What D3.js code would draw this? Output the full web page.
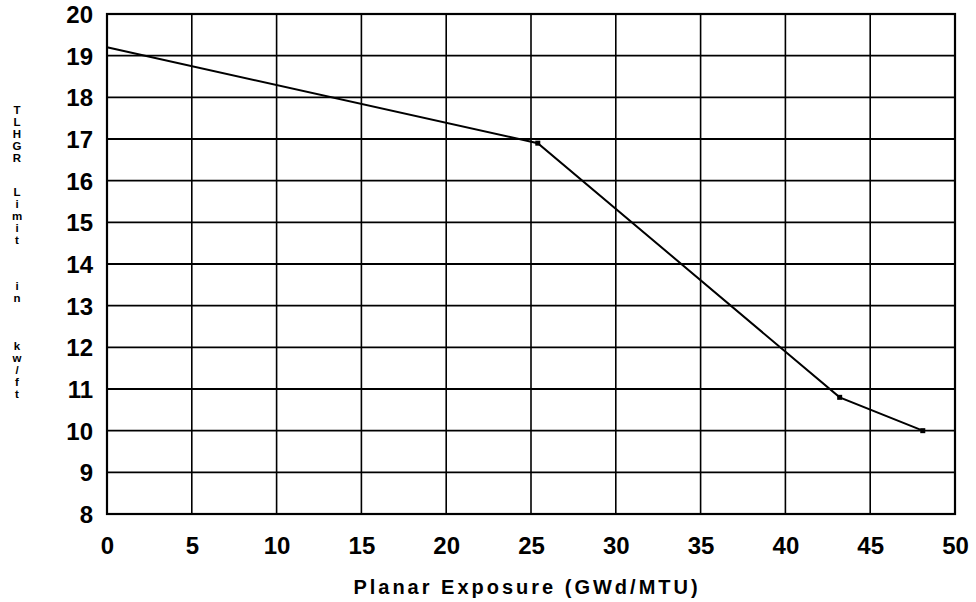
<!DOCTYPE html>
<html><head><meta charset="utf-8">
<script src="https://cdn.jsdelivr.net/npm/d3@7"></script>
<style>body{margin:0;background:#fff}svg{display:block}</style>
</head><body>
<script>
const exposure = [0, 25.4, 43.2, 48.1];
const limit = [19.2, 16.9, 10.8, 10.0];
const xTicks = [0, 5, 10, 15, 20, 25, 30, 35, 40, 45, 50];
const yTicks = [8, 9, 10, 11, 12, 13, 14, 15, 16, 17, 18, 19, 20];
const xTitle = "Planar Exposure (GWd/MTU)";
const yTitleWords = ["TLHGR", "Limit", "in", "kw/ft"];

const W = 976, H = 602;
const m = {left: 107, right: 21, top: 14, bottom: 88};
const svg = d3.select("body").append("svg").attr("width", W).attr("height", H);
const x = d3.scaleLinear().domain([0, 50]).range([m.left, W - m.right]);
const y = d3.scaleLinear().domain([8, 20]).range([H - m.bottom, m.top]);
const font = "'Liberation Sans', Arial, sans-serif";

// grid
const g = svg.append("g");
g.selectAll("line.v").data(xTicks).join("line")
  .attr("x1", d => x(d)).attr("x2", d => x(d))
  .attr("y1", y(8)).attr("y2", y(20))
  .attr("stroke", "#000").attr("stroke-width", 1.6);
g.selectAll("line.h").data(yTicks).join("line")
  .attr("y1", d => y(d)).attr("y2", d => y(d))
  .attr("x1", x(0)).attr("x2", x(50))
  .attr("stroke", "#000").attr("stroke-width", 1.8);
g.append("rect").attr("x", x(0)).attr("y", y(20))
  .attr("width", x(50) - x(0)).attr("height", y(8) - y(20))
  .attr("fill", "none").attr("stroke", "#000").attr("stroke-width", 2.2);

// axes labels via d3 axes
const xa = svg.append("g").attr("transform", `translate(0,${y(8)})`)
  .call(d3.axisBottom(x).tickValues(xTicks).tickSize(0).tickPadding(23).tickFormat(d3.format("d")));
const ya = svg.append("g").attr("transform", `translate(${x(0)},0)`)
  .call(d3.axisLeft(y).tickValues(yTicks).tickSize(0).tickPadding(14).tickFormat(d3.format("d")));
[xa, ya].forEach(a => {
  a.select(".domain").remove();
  a.selectAll("text").attr("font-family", font).attr("font-size", 24)
    .attr("font-weight", "bold").attr("fill", "#000");
});
ya.selectAll("text").attr("dy", "0.36em");

// data line
const pts = exposure.map((e, i) => [e, limit[i]]);
svg.append("path").datum(pts)
  .attr("d", d3.line().x(d => x(d[0])).y(d => y(d[1])))
  .attr("fill", "none").attr("stroke", "#000").attr("stroke-width", 2);
svg.selectAll("rect.pt").data(pts.slice(1)).join("rect")
  .attr("x", d => x(d[0]) - 2.5).attr("y", d => y(d[1]) - 2.5)
  .attr("width", 5).attr("height", 5).attr("fill", "#000");

// x title
svg.append("text").attr("x", 527).attr("y", 594)
  .attr("text-anchor", "middle").attr("font-family", font).attr("font-size", 20)
  .attr("font-weight", "bold").attr("letter-spacing", 3).text(xTitle);

// y title: stacked letters, one text per letter
const wordStart = [114, 196, 290, 350];
const letters = [];
yTitleWords.forEach((w, wi) => {
  [...w].forEach((c, ci) => letters.push({c, y: wordStart[wi] + ci * 12}));
});
svg.append("g").selectAll("text").data(letters).join("text")
  .attr("x", 17).attr("y", d => d.y).attr("text-anchor", "middle")
  .attr("font-family", font).attr("font-size", 11.5).attr("font-weight", "bold")
  .text(d => d.c);
</script>
</body></html>
